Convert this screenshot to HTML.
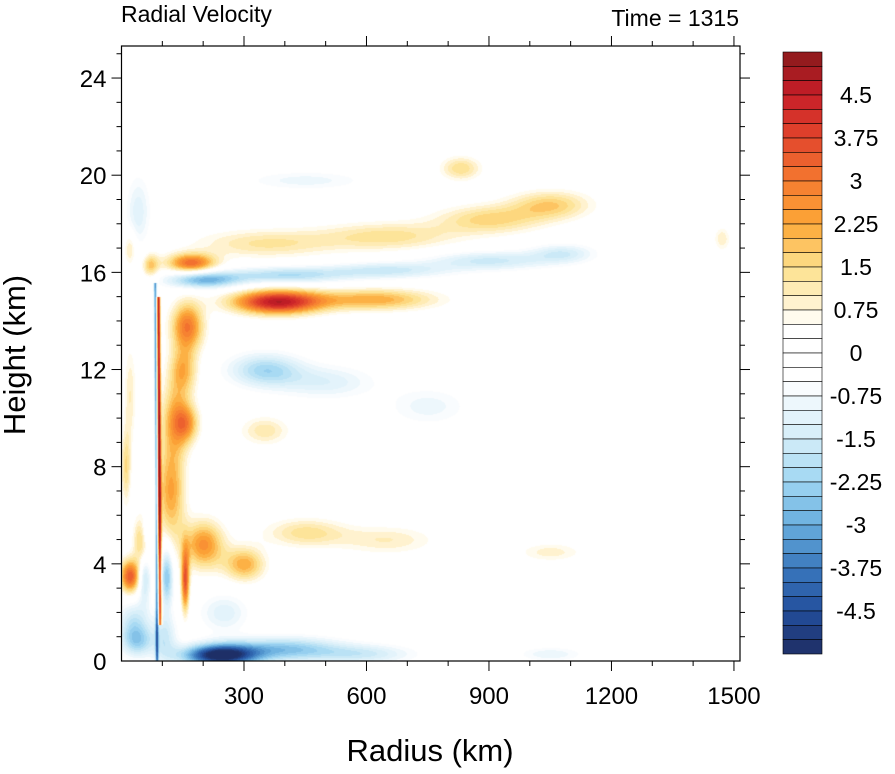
<!DOCTYPE html>
<html><head><meta charset="utf-8">
<style>
body{margin:0;background:#fff;width:895px;height:774px;overflow:hidden;font-family:"Liberation Sans",sans-serif}
#wrap{position:relative;width:895px;height:774px}
canvas{position:absolute;left:0;top:0}
svg{position:absolute;left:0;top:0}
</style></head>
<body>
<div id="wrap">
<canvas id="field" width="895" height="774"></canvas>
<svg id="ax" width="895" height="774"></svg>
</div>
<script>
// ---- data ----
const xTicks = [300, 600, 900, 1200, 1500];
const yTicks = [0, 4, 8, 12, 16, 20, 24];
const cbLabels = ["4.5","3.75","3","2.25","1.5","0.75","0","-0.75","-1.5","-2.25","-3","-3.75","-4.5"];
// blob field: center radius (km), center height (km), value (m/s), radial spread (km), vertical spread (km)
const blobR  = [380, 620, 160, 120, 130, 150, 200, 400, 650, 900, 1080, 170, 350, 650, 900, 1050, 830, 450, 350, 500, 750, 200, 300, 450, 650, 1050, 350, 160, 240, 400, 600, 1050, 20, 50, 30, 55, 60, 110, 105, 155, 10, 20, 40, 20, 70, 1470, 40, 250];
const blobZ  = [14.8, 14.9, 13.8, 7, 10, 12, 15.7, 15.9, 16.1, 16.5, 16.8, 16.4, 17.2, 17.5, 18.2, 18.8, 20.3, 19.8, 12, 11.5, 10.5, 4.8, 4.0, 5.3, 5.0, 4.5, 9.5, 9.8, 0.25, 0.5, 0.3, 0.3, 3.5, 5, 1.5, 3.5, 5.3, 3.5, 1.0, 3.3, 8, 11, 18.5, 17, 16.3, 17.4, 0.8, 2.0];
const blobV  = [4.6, 2.2, 3.0, 2.3, 2.0, 2.0, -2.8, -2.0, -1.6, -1.6, -1.4, 3.2, 1.3, 1.4, 1.6, 1.7, 1.5, -0.9, -2.1, -1.2, -0.9, 2.6, 2.2, 1.4, 1.0, 0.9, 1.2, 2.0, -5.5, -2.5, -1.4, -1.0, 3.5, 2.2, -1.8, -2.0, -1.6, -2.6, -1.5, 3.5, 1.5, 1.0, -1.2, 1.2, 1.8, 1.0, -1.5, -1.2];
const blobSR = [110, 150, 40, 35, 35, 35, 90, 150, 150, 150, 80, 60, 170, 170, 130, 100, 50, 150, 90, 120, 100, 50, 50, 100, 120, 80, 60, 30, 90, 140, 120, 80, 25, 20, 40, 15, 15, 15, 30, 10, 12, 15, 30, 15, 20, 20, 40, 60];
const blobSZ = [0.5, 0.45, 1.0, 2.0, 1.5, 1.0, 0.35, 0.35, 0.35, 0.4, 0.4, 0.4, 0.6, 0.6, 0.6, 0.6, 0.5, 0.4, 0.7, 0.7, 0.8, 1.0, 0.7, 0.6, 0.6, 0.4, 0.6, 0.8, 0.45, 0.5, 0.4, 0.3, 0.7, 1.0, 1.0, 1.0, 0.7, 1.2, 1.0, 1.3, 1.5, 2.0, 1.5, 0.7, 0.5, 0.5, 0.6, 0.8];
// level color stops (value, color)
const stopV = [5.25, 4.5, 3.75, 3.0, 2.25, 1.5, 0.75, 0.5, -0.5, -0.75, -1.5, -2.25, -3.0, -3.75, -4.5, -5.25];
const stopC = ["#8a1a1c","#c81e28","#e2462c","#f57a30","#fca837","#fde08c","#fff6dc","#ffffff","#ffffff","#f2f9fd","#d4edf8","#9fd6f2","#68addd","#3a78bd","#234f9c","#1e2d63"];

// ---- geometry ----
const L=121.5, R=740, T=46, B=661;
const kx=0.4083, kz=24.29;
const X = r => L + r*kx;
const Y = z => B - z*kz;

function hex(c){return [parseInt(c.substr(1,2),16),parseInt(c.substr(3,2),16),parseInt(c.substr(5,2),16)];}
function colorOf(v){
  let q = Math.floor(v/0.25)*0.25 + 0.125;
  if(q>5.2) q=5.2; if(q<-5.2) q=-5.2;
  for(let i=0;i<stopV.length-1;i++){
    if(q<=stopV[i] && q>=stopV[i+1]){
      const t=(stopV[i]-q)/(stopV[i]-stopV[i+1]);
      const a=hex(stopC[i]), b=hex(stopC[i+1]);
      return [0,1,2].map(k=>Math.round(a[k]+(b[k]-a[k])*t));
    }
  }
  return [255,255,255];
}

// ---- field ----
const cv=document.getElementById('field');
const ctx=cv.getContext('2d');
ctx.fillStyle='#fff';ctx.fillRect(0,0,895,774);
const img=ctx.getImageData(0,0,895,774);
for(let py=T;py<B;py++){
  const z=(B-py)/kz;
  for(let px=Math.ceil(L);px<R;px++){
    const r=(px-L)/kx;
    let v=0;
    for(let i=0;i<blobR.length;i++){
      const dr=(r-blobR[i])/blobSR[i], dz=(z-blobZ[i])/blobSZ[i];
      const e=dr*dr+dz*dz; if(e<12) v+=blobV[i]*Math.exp(-e);
    }
    // eyewall pair of thin lines
    const rc = 90 - z*0.3;
    if(z<15.6){
      const d1=(r-(rc+4))/4, d2=(r-(rc-4))/3.5;
      const fr = (z>1.5 && z<15) ? 4.5 : 0;
      v += fr*Math.exp(-d1*d1) - 3.2*Math.exp(-d2*d2);
    }
    const c=colorOf(v);
    const o=(py*895+px)*4;
    img.data[o]=c[0];img.data[o+1]=c[1];img.data[o+2]=c[2];img.data[o+3]=255;
  }
}
ctx.putImageData(img,0,0);

// ---- axes ----
const svg=document.getElementById('ax');
const NS='http://www.w3.org/2000/svg';
function mk(tag,attrs,parent){const e=document.createElementNS(NS,tag);for(const k in attrs)e.setAttribute(k,attrs[k]);(parent||svg).appendChild(e);return e;}
const frame=mk('rect',{x:L,y:T,width:R-L,height:B-T,fill:'none',stroke:'#000','stroke-width':1.2});


for(let r=100;r<=1500;r+=100){
  const maj=r%300===0, len=maj?10:5;
  const t1=mk('line',{x1:X(r),x2:X(r),y1:B,y2:B+len,stroke:'#000','stroke-width':1});
  
  
  const t2=mk('line',{x1:X(r),x2:X(r),y1:T,y2:T-len,stroke:'#000','stroke-width':1});
  
  
}
xTicks.forEach(v=>{
  const t=mk('text',{x:X(v),y:B+43,'text-anchor':'middle','font-size':24,fill:'#000'});
  t.textContent=v;
  
  
});
for(let z=1;z<=25;z++){
  const maj=z%4===0, len=maj?10:5;
  const t1=mk('line',{x1:L,x2:L-len,y1:Y(z),y2:Y(z),stroke:'#000','stroke-width':1});
  
  
  const t2=mk('line',{x1:R,x2:R+len,y1:Y(z),y2:Y(z),stroke:'#000','stroke-width':1});
  
  
}
yTicks.forEach(v=>{
  const t=mk('text',{x:L-15,y:Y(v)+9,'text-anchor':'end','font-size':24,fill:'#000'});
  t.textContent=v;
  
  
});
let t=mk('text',{x:121,y:22,'font-size':23,fill:'#000'});t.textContent='Radial Velocity';


t=mk('text',{x:739,y:26,'font-size':23,'text-anchor':'end',fill:'#000'});t.textContent='Time = 1315';


t=mk('text',{x:430,y:761,'font-size':31,'text-anchor':'middle',fill:'#000'});t.textContent='Radius (km)';


t=mk('text',{x:0,y:0,'font-size':31,'text-anchor':'middle',fill:'#000',transform:'translate(25,355) rotate(-90)'});t.textContent='Height (km)';



// ---- colorbar ----
const cbX=783, cbW=39, cbTop=52, cbBot=654, nBox=42, bh=(cbBot-cbTop)/nBox;
for(let i=0;i<nBox;i++){
  const v=5.25-(i+0.5)*0.25;
  const c=colorOf(v);
  const b=mk('rect',{x:cbX,y:cbTop+i*bh,width:cbW,height:bh,fill:`rgb(${c[0]},${c[1]},${c[2]})`,stroke:'#000','stroke-width':0.6});
  
  
}
cbLabels.forEach((s,i)=>{
  const yy=cbTop+(3+i*3)*bh;
  const l=mk('text',{x:856,y:yy+8,'text-anchor':'middle','font-size':23,fill:'#000'});
  l.textContent=s;
  
  
});
</script>
</body></html>
